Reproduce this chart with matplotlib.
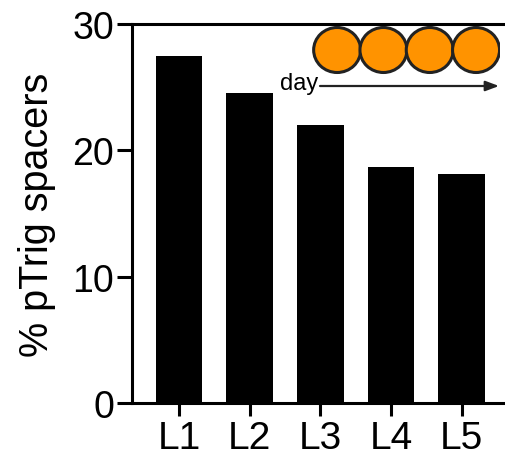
import numpy as np
from matplotlib import pyplot as plt
from matplotlib.patches import Ellipse

plt.rcParams['font.family'] = ['Liberation Sans', 'DejaVu Sans']

labels = ["L1", "L2", "L3", "L4", "L5"]
values = [27.45, 24.5, 22.0, 18.65, 18.1]
yticks = [0, 10, 20, 30]
n_days = 4
orange = "#FF9300"

W, H = 506, 460
fig = plt.figure(figsize=(W / 100, H / 100), dpi=100)
ax = fig.add_axes([132 / W, 56 / H, (W - 132) / W, 379 / H])

x = np.arange(len(labels))
ax.bar(x, values, width=0.66, color="black", edgecolor="none")
ax.set_xlim(-0.666, 4.63)
ax.set_ylim(0, 30)
ax.set_xticks(x)
ax.set_xticklabels(labels)
ax.set_yticks(yticks)
ax.tick_params(axis="both", labelsize=27, width=2.2, length=11, color="black")
ax.tick_params(axis="x", length=9, pad=3, labelsize=28)
ax.tick_params(axis="y", pad=2)
for side in ["left", "bottom", "top"]:
    ax.spines[side].set_linewidth(2.2)
ax.spines["right"].set_visible(False)
ax.set_ylabel("% pTrig spacers", fontsize=28.5, labelpad=12)

# inset: cartoon of daily samples
iw, ih = 500 - 312, 100 - 27
ins = fig.add_axes([312 / W, (H - 100) / H, iw / W, ih / H])
ins.set_xlim(0, iw)
ins.set_ylim(0, ih)
ins.axis("off")
d = 46.3
for i in range(n_days):
    ins.add_patch(Ellipse((2 + d / 2 + i * d, ih - (51 - 27)), 47, 45,
                          facecolor=orange, edgecolor="#222222", lw=2.2))
ins.annotate("", xy=(iw - 1, ih - (87 - 27)), xytext=(8, ih - (87 - 27)),
             arrowprops=dict(arrowstyle="-|>,head_length=0.8,head_width=0.3",
                             color="#222222", lw=1.6, shrinkA=0, shrinkB=0))
ins.text(6, ih - (84 - 27), "day", fontsize=17, ha="right", va="center",
         clip_on=False)

fig.savefig("out.png", dpi=100)
